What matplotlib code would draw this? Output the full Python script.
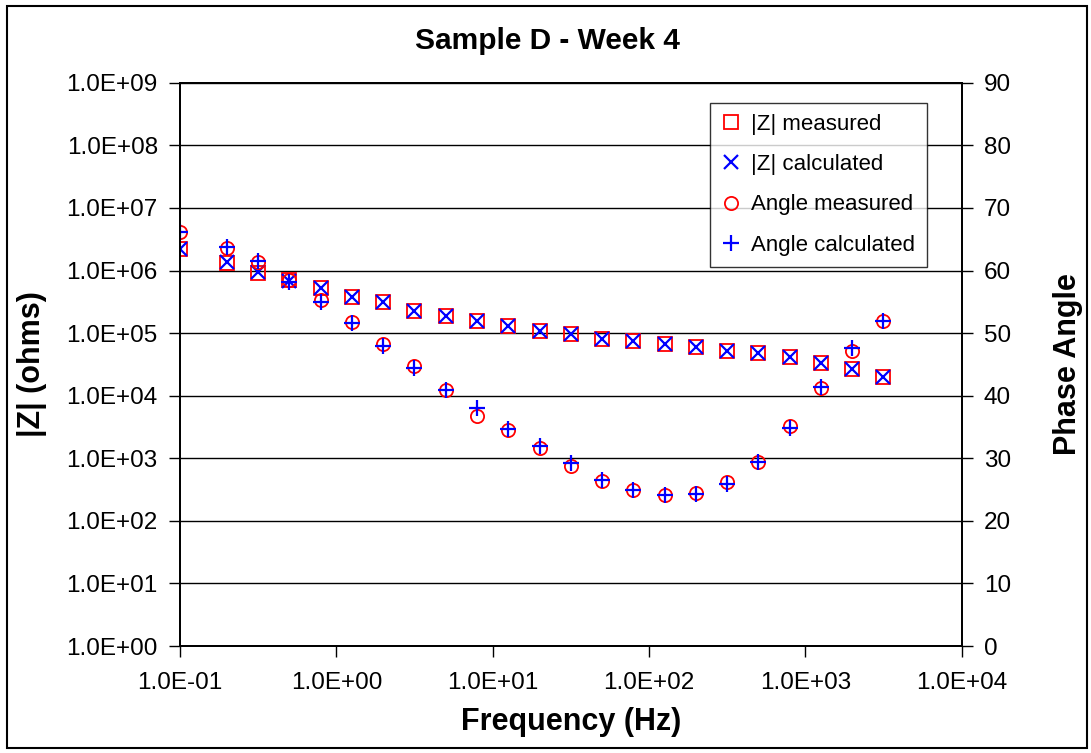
import matplotlib
matplotlib.use("Agg")
import matplotlib.pyplot as plt
from matplotlib.patches import Rectangle
from matplotlib.ticker import FixedLocator, FuncFormatter, NullLocator

plt.rcParams['font.family'] = ['Liberation Sans', 'DejaVu Sans']

# frequency (Hz)
freq = [0.1, 0.2, 0.316, 0.5, 0.794, 1.26, 2.0, 3.16, 5.0, 7.94, 12.6, 20.0,
        31.6, 50.0, 79.4, 126, 200, 316, 500, 794, 1260, 2000, 3160]

# |Z| in ohms
z_meas = [2.25e6, 1.33e6, 9.2e5, 7.0e5, 5.2e5, 3.8e5, 3.1e5, 2.3e5, 1.85e5,
          1.57e5, 1.28e5, 1.10e5, 9.6e4, 8.1e4, 7.5e4, 6.6e4, 6.05e4, 5.2e4,
          4.85e4, 4.2e4, 3.35e4, 2.7e4, 2.0e4]
z_calc = [2.25e6, 1.35e6, 9.4e5, 6.8e5, 5.2e5, 3.8e5, 3.1e5, 2.3e5, 1.85e5,
          1.57e5, 1.28e5, 1.10e5, 9.6e4, 8.1e4, 7.5e4, 6.6e4, 6.05e4, 5.2e4,
          4.85e4, 4.2e4, 3.35e4, 2.7e4, 2.0e4]

# phase angle (degrees)
ang_meas = [66.1, 63.6, 61.4, 58.5, 55.3, 51.8, 48.2, 44.8, 40.9, 36.7, 34.5,
            31.6, 28.7, 26.4, 24.9, 24.2, 24.5, 26.2, 29.4, 35.1, 41.2, 47.2, 52.0]
ang_calc = [66.1, 63.8, 61.6, 58.1, 55.0, 51.6, 48.0, 44.5, 40.9, 38.0, 34.7,
            31.9, 29.3, 26.6, 25.0, 24.2, 24.3, 25.9, 29.4, 34.8, 41.35, 47.7, 51.9]

x_ticks = [1e-1, 1e0, 1e1, 1e2, 1e3, 1e4]
z_ticks = [10.0 ** k for k in range(0, 10)]
ang_ticks = list(range(0, 100, 10))

fig = plt.figure(figsize=(10.91, 7.53), dpi=100)
ax = fig.add_axes([0.165, 0.142, 0.7165, 0.748])
ax2 = ax.twinx()

# impedance on left axis
h1, = ax.plot(freq, z_meas, linestyle='none', marker='s', markersize=9.5,
              markerfacecolor='none', markeredgecolor='red', markeredgewidth=1.3,
              label='|Z| measured')
h2, = ax.plot(freq, z_calc, linestyle='none', marker='x', markersize=9.5,
              color='blue', markeredgewidth=1.6, label='|Z| calculated')

# phase on right axis
h3, = ax2.plot(freq, ang_meas, linestyle='none', marker='o', markersize=9.5,
               markerfacecolor='none', markeredgecolor='red', markeredgewidth=1.3,
               label='Angle measured')
h4, = ax2.plot(freq, ang_calc, linestyle='none', marker='+', markersize=12,
               color='blue', markeredgewidth=1.6, label='Angle calculated')

ax.set_xscale('log')
ax.set_yscale('log')
ax.set_xlim(1e-1, 1e4)
ax.set_ylim(1, 1e9)
ax2.set_ylim(0, 90)

sci = FuncFormatter(lambda v, p: f"{v:.1E}")
ax.xaxis.set_major_locator(FixedLocator(x_ticks))
ax.xaxis.set_minor_locator(NullLocator())
ax.xaxis.set_major_formatter(sci)
ax.yaxis.set_major_locator(FixedLocator(z_ticks))
ax.yaxis.set_minor_locator(NullLocator())
ax.yaxis.set_major_formatter(sci)
ax2.yaxis.set_major_locator(FixedLocator(ang_ticks))

ax.grid(True, axis='y', color='black', linewidth=1.0)
ax.tick_params(axis='y', direction='out', length=8, width=1, labelsize=17.5, pad=8)
ax.tick_params(axis='x', direction='out', length=8, width=1, labelsize=17.5, pad=11)
ax2.tick_params(axis='y', direction='out', length=8, width=1, labelsize=17.5, pad=8)
for sp in list(ax.spines.values()) + list(ax2.spines.values()):
    sp.set_linewidth(1.3)
    sp.set_color('black')

ax.set_xlabel('Frequency (Hz)', fontsize=22, fontweight='bold', labelpad=9)
ax.set_ylabel('|Z| (ohms)', fontsize=22, fontweight='bold', labelpad=14)
ax2.set_ylabel('Phase Angle', fontsize=22, fontweight='bold', labelpad=30)
# title centred on the whole chart, not on the plot area
fig.text(0.502, 0.946, 'Sample D - Week 4', fontsize=21.5, fontweight='bold',
         ha='center', va='center')

leg = ax2.legend(handles=[h1, h2, h3, h4], loc='upper right',
                 bbox_to_anchor=(0.955, 0.965), fontsize=16, frameon=True,
                 fancybox=False, handlelength=0.9, handletextpad=0.45,
                 borderpad=0.5, labelspacing=0.87, borderaxespad=0)
leg.get_frame().set_edgecolor('black')
leg.get_frame().set_linewidth(1.0)

# outer chart border
fig.patches.append(Rectangle((7 / 1091, 5 / 753), 1080 / 1091, 742 / 753,
                             transform=fig.transFigure, fill=False,
                             edgecolor='black', linewidth=1.5))

fig.savefig('out.png', dpi=100)
